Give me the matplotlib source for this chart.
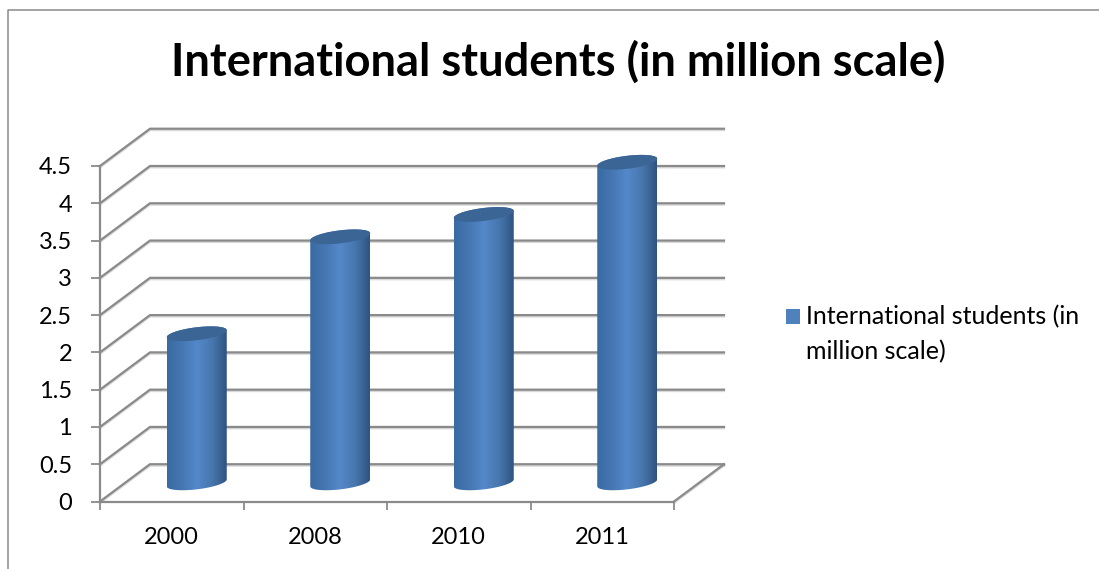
import matplotlib
matplotlib.use("Agg")
import matplotlib.patheffects as pe
import matplotlib.pyplot as plt
import numpy as np
from matplotlib.colors import LinearSegmentedColormap
from matplotlib.lines import Line2D
from matplotlib.patches import Polygon, Rectangle

# --------------------------  Data  -------------------------------------------

YEARS = ["2000", "2008", "2010", "2011"]
STUDENTS = [2.0, 3.3, 3.6, 4.3]
Y_TICKS = [0, 0.5, 1, 1.5, 2, 2.5, 3, 3.5, 4, 4.5]
Y_LABELS = ["0", "0.5", "1", "1.5", "2", "2.5", "3", "3.5", "4", "4.5"]
TITLE = "International students (in million scale)"
LEGEND_LABEL = "International students (in\nmillion scale)"

# --------------------------  Style  ------------------------------------------

W, H = 1099, 569
LEFT, RIGHT, BOTTOM, TOP = 100, 674, 501.5, 166  # front plane, pixels
PX_X = 4 / (RIGHT - LEFT)  # one pixel in category units
PX_Y = 4.5 / (BOTTOM - TOP)  # one pixel in value units
DEPTH_X = 50 * PX_X
DEPTH_Y = 0.5
GREY = "#8a8a8a"
BLUE = "#4f81bd"
SOFT_LINE = [pe.SimpleLineShadow(offset=(0, -1), shadow_color="black", alpha=0.15), pe.Normal()]

plt.rcParams["font.family"] = ["Lato", "DejaVu Sans"]

cylinder_cmap = LinearSegmentedColormap.from_list(
    "cylinder",
    [(0.0, "#3a6aa3"), (0.25, "#4677b2"), (0.5, "#5488ca"),
     (0.75, "#4877ae"), (0.92, "#37608f"), (1.0, "#2e5280")],
)


def ellipse(cx, cy, t):
    # tilted ellipse used for the ends of a cylinder
    xs = cx + np.cos(t) * 30 * PX_X
    ys = cy + (np.cos(t) * 3.5 + np.sin(t) * 6.5) * PX_Y
    return np.column_stack([xs, ys])


def draw_cylinder(ax, fig, cx, base, top):
    lower = ellipse(cx, base, np.linspace(np.pi, 2 * np.pi, 40))
    upper = ellipse(cx, top, np.linspace(0, np.pi, 40))
    body = Polygon(np.vstack([lower, upper]), closed=True, transform=ax.transData,
                   fc="none", ec="none")
    gradient = np.linspace(0, 1, 256).reshape(1, -1)
    half = 30 * PX_X
    im = ax.imshow(gradient, cmap=cylinder_cmap, aspect="auto", zorder=3,
                   extent=(cx - half, cx + half, base - 0.2, top + 0.2),
                   interpolation="bilinear")
    im.set_clip_box(fig.bbox)
    im.set_clip_path(body)
    cap = ellipse(cx, top, np.linspace(0, 2 * np.pi, 80))
    ax.add_patch(Polygon(cap, closed=True, fc="#3b6595", ec="none", zorder=4,
                         clip_on=False))


# --------------------------  Figure  -----------------------------------------

fig = plt.figure(figsize=(W / 100, H / 100), dpi=100, facecolor="white")
ax = fig.add_axes([LEFT / W, 1 - BOTTOM / H, (RIGHT - LEFT) / W, (BOTTOM - TOP) / H])
ax.set_facecolor("none")

# outer chart frame
fig.add_artist(Line2D([7.5 / W, 7.5 / W, 1], [0, 1 - 9.5 / H, 1 - 9.5 / H], color=GREY, lw=1.1))

# back wall gridlines and the side wall diagonals
for v in Y_TICKS:
    ax.plot([0, DEPTH_X, 4 + DEPTH_X], [v, v + DEPTH_Y, v + DEPTH_Y],
            color=GREY, lw=1.6, zorder=1, clip_on=False, solid_joinstyle="miter",
            path_effects=SOFT_LINE)
ax.plot([4, 4 + DEPTH_X], [0, DEPTH_Y], color=GREY, lw=1.6, zorder=1, clip_on=False,
        path_effects=SOFT_LINE)

for i, value in enumerate(STUDENTS):
    cx = i + 0.5 + DEPTH_X / 2
    draw_cylinder(ax, fig, cx, DEPTH_Y / 2, value + DEPTH_Y / 2)

ax.set_xlim(0, 4)
ax.set_ylim(0, 4.5)

for side in ("top", "right"):
    ax.spines[side].set_visible(False)
for side in ("left", "bottom"):
    ax.spines[side].set_color(GREY)
    ax.spines[side].set_linewidth(1.6)

ax.set_yticks(Y_TICKS, Y_LABELS)
ax.set_xticks(range(5), [])
ax.set_xticks(np.arange(4) + 0.5, YEARS, minor=True)
ax.tick_params(axis="y", length=6.5, width=1.3, color=GREY, pad=13.5, labelsize=17)
ax.tick_params(axis="x", which="major", length=6, width=1.3, color=GREY)
ax.tick_params(axis="x", which="minor", length=0, pad=18.5, labelsize=17)

fig.suptitle(TITLE, x=558 / W, y=1 - 62 / H, va="center", fontsize=32.6,
             fontweight="bold", color="black")

# legend swatch sits level with the first line of the wrapped label
fig.add_artist(Rectangle((785.5 / W, 1 - 323.5 / H), 14.5 / W, 14.5 / H, fc=BLUE, ec="none",
                         transform=fig.transFigure))
fig.text(806 / W, 1 - 334 / H, LEGEND_LABEL, va="center", ha="left", fontsize=18,
         linespacing=1.6, color="black")

fig.savefig("out.png", dpi=100)
